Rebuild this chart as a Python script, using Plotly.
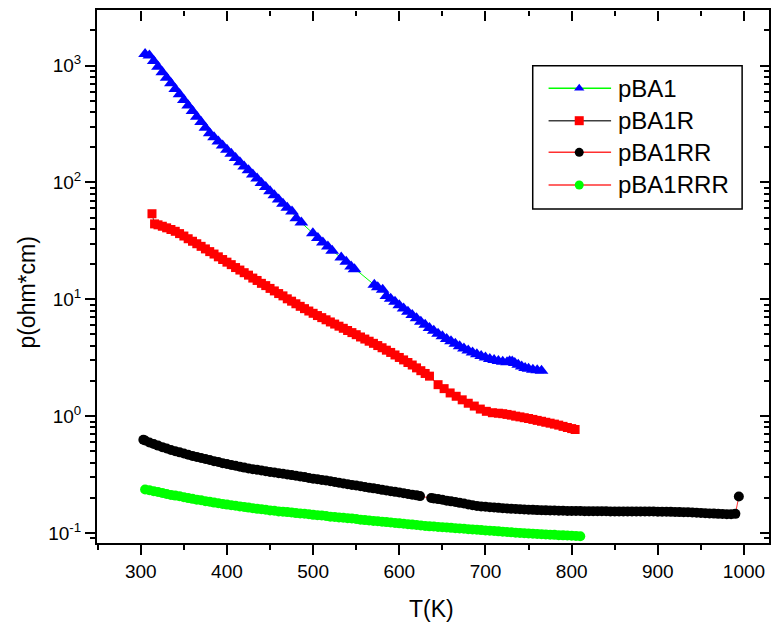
import plotly.graph_objects as go

# ---- pBA1 (blue triangles, green connecting line) ----
t_pba1 = [305, 310, 315, 320, 325, 330, 335, 340, 345, 350, 355, 360, 365, 370, 375,
          380, 385, 390, 395, 400, 405, 410, 415, 420, 425, 430, 435, 440, 445, 450,
          455, 460, 465, 470,
          475.5, 480.5, 486.3, 499.7, 505.5, 511.3, 517.1, 522.1, 532.6, 538.4, 544.1,
          548, 571, 575, 580.7,
          585, 590, 595, 600, 605, 610, 615, 620, 625, 630, 635, 640, 645, 650, 655,
          660, 665, 670, 675, 680, 685, 690, 695, 700, 705, 710, 715, 720, 725, 728,
          731, 734, 738, 742, 746, 750, 755, 760, 765]
rho_pba1 = [1259, 1219, 1094, 979, 879, 787, 706, 632, 568, 508, 456, 408, 366, 329, 294,
            264, 244, 224, 207, 191, 176, 162, 149, 137, 127, 117, 108, 99.1, 91.4, 84.1,
            77.6, 71.4, 65.9, 60.7,
            56.4, 49.5, 45.4, 36.8, 33.4, 30.6, 28.3, 26.0, 22.8, 21.0, 19.1,
            18.1, 13.3, 12.7, 12.05,
            10.7, 10.1, 9.51, 8.91, 8.36, 7.82, 7.33, 6.87, 6.44, 6.05, 5.69, 5.37, 5.07, 4.82, 4.58,
            4.37, 4.17, 3.96, 3.80, 3.65, 3.51, 3.39, 3.27, 3.18, 3.09, 3.02, 2.96, 2.92, 2.90, 2.95,
            2.94, 2.85, 2.75, 2.66, 2.58, 2.54, 2.50, 2.47, 2.45]

# ---- pBA1R (red squares, dark connecting line) ----
t_pba1r = [313, 316, 320, 325, 330, 335, 340, 345, 350, 355, 360, 365, 370, 375, 380,
           385, 390, 395, 400, 405, 410, 415, 420, 425, 430, 435, 440, 445, 450, 455,
           460, 465, 470, 475, 480, 485, 490, 495, 500, 505, 510, 515, 520, 525, 530,
           535, 540, 545, 550, 555, 560, 565, 570, 575, 580, 585, 590, 595, 600, 605,
           610, 615, 620, 625, 630, 635,
           645, 652, 659, 666, 673, 680, 687, 694, 701, 708,
           715, 720, 725, 730, 735, 740, 745, 750, 755, 760, 765, 770, 775, 780, 785,
           790, 795, 800, 804]
rho_pba1r = [54.0, 44.2, 43.4, 42.2, 40.9, 39.6, 38.2, 36.5, 34.8, 33.0, 31.4, 29.9, 28.4, 27.0, 25.6,
             24.4, 23.1, 21.9, 20.8, 19.8, 18.7, 17.8, 16.9, 16.1, 15.2, 14.5, 13.7, 13.1, 12.4, 11.8,
             11.2, 10.7, 10.1, 9.64, 9.16, 8.71, 8.32, 7.94, 7.59, 7.26, 6.97, 6.68, 6.40, 6.14, 5.89,
             5.65, 5.41, 5.19, 4.98, 4.76, 4.57, 4.38, 4.20, 4.02, 3.85, 3.67, 3.51, 3.34, 3.18, 3.03,
             2.88, 2.74, 2.59, 2.45, 2.32, 2.20,
             1.86, 1.72, 1.58, 1.48, 1.38, 1.29, 1.22, 1.15, 1.10, 1.07,
             1.06, 1.05, 1.035, 1.02, 1.00, 0.986, 0.970, 0.955, 0.938, 0.920, 0.904, 0.887, 0.871, 0.855, 0.838,
             0.818, 0.800, 0.783, 0.769]

# ---- pBA1RR (black circles, red connecting line) ----
t_pba1rr = [303, 305, 310, 315, 320, 325, 330, 335, 340, 345, 350, 355, 360, 365, 370,
            375, 380, 385, 390, 395, 400, 405, 410, 415, 420, 425, 430, 435, 440, 445,
            450, 455, 460, 465, 470, 475, 480, 485, 490, 495, 500, 505, 510, 515, 520,
            525, 530, 535, 540, 545, 550, 555, 560, 565, 570, 575, 580, 585, 590, 595,
            600, 605, 610, 615, 620, 624,
            637, 640, 645, 650, 655, 660, 665, 670, 675, 680, 685, 690, 695, 700, 705,
            710, 715, 720, 725, 730, 735, 740, 745, 750, 755, 760, 765, 770, 775, 780,
            785, 790, 795, 800, 805, 810, 815, 820, 825, 830, 835, 840, 845, 850, 855,
            860, 865, 870, 875, 880, 885, 890, 895, 900, 905, 910, 915, 920, 925, 930,
            935, 940, 945, 950, 955, 960, 965, 970, 975, 980, 985, 990, 994]
rho_pba1rr = [0.628, 0.619, 0.596, 0.577, 0.560, 0.543, 0.528, 0.514, 0.501, 0.490, 0.479, 0.468, 0.457, 0.448, 0.439,
              0.430, 0.421, 0.412, 0.405, 0.396, 0.389, 0.382, 0.376, 0.369, 0.363, 0.357, 0.352, 0.348, 0.343, 0.338,
              0.333, 0.329, 0.325, 0.321, 0.317, 0.313, 0.309, 0.305, 0.301, 0.296, 0.292, 0.288, 0.284, 0.281, 0.277,
              0.273, 0.269, 0.265, 0.262, 0.258, 0.255, 0.251, 0.248, 0.244, 0.241, 0.238, 0.234, 0.231, 0.228, 0.225,
              0.222, 0.219, 0.216, 0.213, 0.210, 0.207,
              0.1995, 0.1977, 0.1950, 0.1923, 0.1892, 0.1866, 0.1841, 0.1811, 0.1786, 0.1758, 0.1730, 0.1706, 0.1690, 0.1675, 0.1663,
              0.1652, 0.1641, 0.1629, 0.1622, 0.1611, 0.1603, 0.1596, 0.1589, 0.1581, 0.1578, 0.1570, 0.1567, 0.1563, 0.1560, 0.1556,
              0.1552, 0.1549, 0.1545, 0.1545, 0.1542, 0.1542, 0.1538, 0.1538, 0.1535, 0.1535, 0.1535, 0.1535, 0.1531, 0.1531, 0.1531,
              0.1531, 0.1531, 0.1531, 0.1528, 0.1528, 0.1528, 0.1528, 0.1528, 0.1524, 0.1524, 0.1521, 0.1517, 0.1514, 0.1510, 0.1507,
              0.1503, 0.1496, 0.1493, 0.1486, 0.1479, 0.1472, 0.1466, 0.1459, 0.1452, 0.1445, 0.1445, 0.1459, 0.2056]

# ---- pBA1RRR (green circles, red connecting line) ----
t_pba1rrr = [305, 310, 315, 320, 325, 330, 335, 340, 345, 350, 355, 360, 365, 370, 375,
             380, 385, 390, 395, 400, 405, 410, 415, 420, 425, 430, 435, 440, 445, 450,
             455, 460, 465, 470, 475, 480, 485, 490, 495, 500, 505, 510, 515, 520, 525,
             530, 535, 540, 545, 550, 555, 560, 565, 570, 575, 580, 585, 590, 595, 600,
             605, 610, 615, 620, 625, 630, 635, 640, 645, 650, 655, 660, 665, 670, 675,
             680, 685, 690, 695, 700, 705, 710, 715, 720, 725, 730, 735, 740, 745, 750,
             755, 760, 765, 770, 775, 780, 785, 790, 795, 800, 805, 810]
rho_pba1rrr = [0.236, 0.232, 0.228, 0.224, 0.220, 0.216, 0.212, 0.209, 0.206, 0.202, 0.199, 0.196, 0.193, 0.191, 0.187,
               0.185, 0.182, 0.180, 0.177, 0.175, 0.173, 0.171, 0.169, 0.167, 0.165, 0.163, 0.161, 0.160, 0.158, 0.156,
               0.155, 0.153, 0.152, 0.151, 0.150, 0.148, 0.147, 0.146, 0.145, 0.143, 0.142, 0.141, 0.140, 0.138, 0.137,
               0.136, 0.135, 0.134, 0.133, 0.132, 0.130, 0.129, 0.128, 0.127, 0.126, 0.125, 0.124, 0.123, 0.122, 0.121,
               0.120, 0.119, 0.118, 0.117, 0.116, 0.115, 0.114, 0.1135, 0.1127, 0.1122, 0.1114, 0.1107, 0.1099, 0.1094, 0.1086,
               0.1079, 0.1072, 0.1067, 0.1059, 0.1052, 0.1045, 0.1040, 0.1033, 0.1026, 0.1019, 0.1014, 0.1007, 0.1002, 0.0995, 0.0991,
               0.0986, 0.0982, 0.0977, 0.0973, 0.0968, 0.0964, 0.0959, 0.0955, 0.0951, 0.0946, 0.0942, 0.0938]

series_names = ["pBA1", "pBA1R", "pBA1RR", "pBA1RRR"]
line_colors = ["#00ff00", "#404040", "#ff3030", "#ff3030"]
marker_colors = ["#0000ff", "#ff0000", "#000000", "#00ff00"]
marker_symbols = ["triangle-up", "square", "circle", "circle"]
marker_sizes = [12, 9, 10, 10]

x_major = [300, 400, 500, 600, 700, 800, 900, 1000]
x_minor = [250, 350, 450, 550, 650, 750, 850, 950]
y_major = [0.1, 1, 10, 100, 1000]
y_major_text = ["10<sup>-1</sup>", "10<sup>0</sup>", "10<sup>1</sup>", "10<sup>2</sup>", "10<sup>3</sup>"]
y_minor = [0.08, 0.09,
           0.2, 0.3, 0.4, 0.5, 0.6, 0.7, 0.8, 0.9,
           2, 3, 4, 5, 6, 7, 8, 9,
           20, 30, 40, 50, 60, 70, 80, 90,
           200, 300, 400, 500, 600, 700, 800, 900,
           2000]

FONT = "Liberation Sans, Arial, sans-serif"

fig = go.Figure()

data = [(t_pba1, rho_pba1), (t_pba1r, rho_pba1r), (t_pba1rr, rho_pba1rr), (t_pba1rrr, rho_pba1rrr)]
for i, (tx, ry) in enumerate(data):
    fig.add_trace(go.Scatter(
        x=tx, y=ry, mode="lines+markers", name=series_names[i], showlegend=False,
        line=dict(color=line_colors[i], width=1),
        marker=dict(symbol=marker_symbols[i], size=marker_sizes[i], color=marker_colors[i],
                    line=dict(width=0)),
    ))

# empty traces so every tick-only axis owns a subplot
for xa, ya in [("x2", "y"), ("x4", "y"), ("x5", "y"), ("x", "y2"), ("x", "y4"), ("x", "y5")]:
    fig.add_trace(go.Scatter(x=[None], y=[None], xaxis=xa, yaxis=ya, showlegend=False, hoverinfo="skip"))

# legend glyphs drawn on a hidden unit axis pair spanning the plot area
leg_x0, leg_x1, leg_xm, leg_tx = 0.672, 0.765, 0.7176, 0.772
leg_rows = [0.853, 0.7923, 0.733, 0.6717]
for i, name in enumerate(series_names):
    yy = leg_rows[i]
    fig.add_trace(go.Scatter(
        x=[leg_x0, leg_x1], y=[yy, yy], xaxis="x3", yaxis="y3", mode="lines",
        line=dict(color=line_colors[i], width=1.5), showlegend=False, hoverinfo="skip"))
    fig.add_trace(go.Scatter(
        x=[leg_xm], y=[yy], xaxis="x3", yaxis="y3", mode="markers",
        marker=dict(symbol=marker_symbols[i], size=9, color=marker_colors[i], line=dict(width=0)),
        showlegend=False, hoverinfo="skip"))
    fig.add_annotation(x=leg_tx, y=yy, xref="paper", yref="paper", text=name,
                       showarrow=False, xanchor="left", yanchor="middle",
                       font=dict(family=FONT, size=24, color="black"))

fig.add_shape(type="rect", xref="paper", yref="paper", x0=0.6484, x1=0.960, y0=0.6266, y1=0.8955,
              line=dict(color="black", width=1.5), fillcolor="rgba(0,0,0,0)")

x_range = [249.2, 1029]
y_range = [-1.0855, 3.476]

frame = dict(showgrid=False, zeroline=False, showline=True, mirror=True, linecolor="black", linewidth=2,
             tickcolor="black", tickwidth=2)
tick_only = dict(showgrid=False, zeroline=False, showline=False, showticklabels=False,
                 tickcolor="black", tickwidth=2, tickmode="array")

fig.update_layout(
    width=774, height=635,
    margin=dict(l=97, r=3, t=10, b=92),
    paper_bgcolor="white", plot_bgcolor="white",
    font=dict(family=FONT, size=19, color="black"),
    showlegend=False,
    # bottom: labelled major ticks, outward
    xaxis=dict(range=x_range, tickmode="array", tickvals=x_major, ticks="outside", ticklen=10,
               tickfont=dict(size=19), **frame),
    # bottom: minor ticks, outward
    xaxis4=dict(range=x_range, overlaying="x", side="bottom", anchor="y", tickvals=x_minor,
                ticks="outside", ticklen=6, **tick_only),
    # top: inward ticks
    xaxis2=dict(range=x_range, overlaying="x", side="top", anchor="free", position=1,
                tickvals=x_major, ticks="inside", ticklen=10, **tick_only),
    xaxis5=dict(range=x_range, overlaying="x", side="top", anchor="free", position=1,
                tickvals=x_minor, ticks="inside", ticklen=5, **tick_only),
    # left: labelled decades, outward
    yaxis=dict(type="log", range=y_range, tickmode="array", tickvals=y_major, ticktext=y_major_text,
               ticks="outside", ticklen=10, tickfont=dict(size=19), **frame),
    yaxis4=dict(type="log", range=y_range, overlaying="y", side="left", anchor="x",
                tickvals=y_minor, ticks="outside", ticklen=6, **tick_only),
    # right: inward ticks
    yaxis2=dict(type="log", range=y_range, overlaying="y", side="right", anchor="free", position=1,
                tickvals=y_major, ticks="inside", ticklen=9, **tick_only),
    yaxis5=dict(type="log", range=y_range, overlaying="y", side="right", anchor="free", position=1,
                tickvals=y_minor, ticks="inside", ticklen=5, **tick_only),
    xaxis3=dict(range=[0, 1], visible=False, overlaying="x", anchor="y3", fixedrange=True),
    yaxis3=dict(range=[0, 1], visible=False, overlaying="y", anchor="x3", fixedrange=True),
)

fig.add_annotation(x=0.4985, y=-0.124, xref="paper", yref="paper", text="T(K)", showarrow=False,
                   xanchor="center", yanchor="middle", font=dict(family=FONT, size=23, color="black"))
fig.add_annotation(x=-0.104, y=0.47, xref="paper", yref="paper", text="p(ohm*cm)", showarrow=False,
                   textangle=-90, xanchor="center", yanchor="middle",
                   font=dict(family=FONT, size=23, color="black"))

fig.write_html("out.html")
